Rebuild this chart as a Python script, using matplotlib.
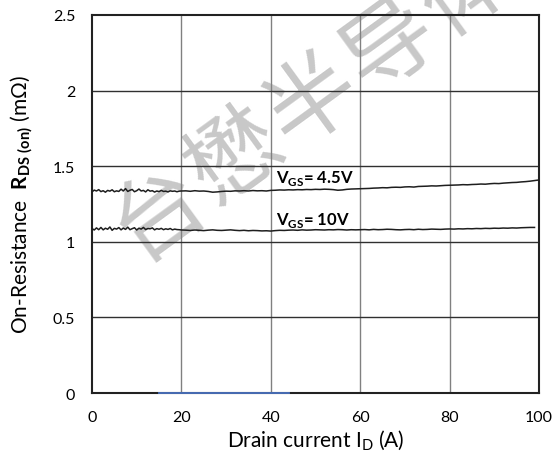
import numpy as np
import matplotlib
matplotlib.use("Agg")
import matplotlib.pyplot as plt

plt.rcParams['font.family'] = ['Lato', 'DejaVu Sans']
plt.rcParams['mathtext.fontset'] = 'custom'
plt.rcParams['mathtext.rm'] = 'Lato'
plt.rcParams['mathtext.bf'] = 'Lato:bold'

# Sampling grid of drain current (A)
current_dense = np.arange(0, 20.5, 0.5)      # 0..20 step 0.5
current_coarse = np.arange(21, 101, 1)       # 21..100 step 1
drain_current = np.concatenate([current_dense, current_coarse])

rds_45v_dense = [1.330, 1.342, 1.336, 1.345, 1.332, 1.338, 1.328, 1.340, 1.335, 1.344,
                 1.331, 1.337, 1.333, 1.348, 1.336, 1.352, 1.333, 1.341, 1.346, 1.331,
                 1.338, 1.349, 1.336, 1.340, 1.330, 1.344, 1.335, 1.338, 1.329, 1.336,
                 1.332, 1.340, 1.333, 1.335, 1.330, 1.337, 1.334, 1.336, 1.331, 1.335,
                 1.336]
rds_45v_coarse = [1.337, 1.334, 1.338, 1.335, 1.336, 1.333, 1.328, 1.330, 1.333, 1.335,
                  1.334, 1.337, 1.336, 1.338, 1.336, 1.339, 1.337, 1.338, 1.336, 1.340,
                  1.341, 1.343, 1.342, 1.344, 1.343, 1.345, 1.344, 1.346, 1.345, 1.347,
                  1.346, 1.348, 1.347, 1.345, 1.341, 1.343, 1.347, 1.349, 1.350, 1.351,
                  1.352, 1.353, 1.355, 1.356, 1.358, 1.357, 1.360, 1.361, 1.360, 1.363,
                  1.364, 1.362, 1.366, 1.367, 1.368, 1.370, 1.369, 1.371, 1.373, 1.374,
                  1.375, 1.376, 1.378, 1.377, 1.379, 1.380, 1.382, 1.381, 1.384, 1.386,
                  1.385, 1.388, 1.390, 1.392, 1.393, 1.396, 1.398, 1.401, 1.405, 1.409]

rds_10v_dense = [1.088, 1.078, 1.092, 1.080, 1.095, 1.079, 1.090, 1.083, 1.098, 1.076,
                 1.089, 1.084, 1.094, 1.079, 1.091, 1.082, 1.097, 1.080, 1.087, 1.093,
                 1.078, 1.090, 1.084, 1.095, 1.081, 1.088, 1.086, 1.092, 1.079, 1.087,
                 1.083, 1.089, 1.080, 1.086, 1.082, 1.088, 1.079, 1.084, 1.081, 1.080,
                 1.078]
rds_10v_coarse = [1.077, 1.075, 1.078, 1.076, 1.074, 1.077, 1.079, 1.076, 1.075, 1.077,
                  1.079, 1.076, 1.074, 1.076, 1.073, 1.075, 1.074, 1.072, 1.073, 1.071,
                  1.074, 1.076, 1.075, 1.077, 1.078, 1.076, 1.079, 1.077, 1.078, 1.080,
                  1.079, 1.078, 1.080, 1.079, 1.081, 1.080, 1.078, 1.080, 1.079, 1.080,
                  1.081, 1.079, 1.082, 1.080, 1.081, 1.083, 1.082, 1.080, 1.079, 1.081,
                  1.082, 1.080, 1.083, 1.081, 1.082, 1.084, 1.083, 1.082, 1.084, 1.085,
                  1.084, 1.086, 1.085, 1.087, 1.086, 1.088, 1.087, 1.089, 1.088, 1.090,
                  1.089, 1.091, 1.090, 1.092, 1.091, 1.093, 1.094, 1.095, 1.095, 1.097]

rds_45v = np.array(rds_45v_dense + rds_45v_coarse)
rds_10v = np.array(rds_10v_dense + rds_10v_coarse)

x_ticks = [0, 20, 40, 60, 80, 100]
y_ticks = [0, 0.5, 1, 1.5, 2, 2.5]
y_tick_labels = ['0', '0.5', '1', '1.5', '2', '2.5']
watermark_chars = ['台', '懋', '半', '导', '体']

W, H = 555, 460
fig = plt.figure(figsize=(W/100, H/100), dpi=100)
ax = fig.add_axes([92/W, 1 - 394/H, (539 - 92)/W, (394 - 16)/H])
ax.set_zorder(1)
ax.patch.set_alpha(0)

# watermark: characters placed along a 36 degree line through (313, 102) px
ang = np.deg2rad(36)
step = 95.0
cx, cy = 313.0, 102.0
for k, ch in enumerate(watermark_chars):
    off = (k - 2) * step
    px = cx + off * np.cos(ang)
    py = cy - off * np.sin(ang)
    fig.text(px / W, 1 - py / H, ch, family=['Noto Sans CJK SC', 'DejaVu Sans'],
             fontsize=66, fontweight='medium', color='#c8c8c8', rotation=36,
             ha='center', va='center', zorder=0, rotation_mode='anchor')

ax.set_xlim(0, 100)
ax.set_ylim(0, 2.5)
ax.set_xticks(x_ticks)
ax.set_yticks(y_ticks)
ax.set_yticklabels(y_tick_labels)
ax.tick_params(length=0, labelsize=11.5, pad=12)

for xv in x_ticks[1:-1]:
    ax.axvline(xv, color='#808080', lw=1.0, zorder=1)
for yv in y_ticks[1:-1]:
    ax.axhline(yv, color='#303030', lw=1.0, zorder=1)

for sp in ax.spines.values():
    sp.set_linewidth(1.5)
    sp.set_color('#222222')

ax.plot(drain_current, rds_45v, color='#1e1e1e', lw=1.1, zorder=3)
ax.plot(drain_current[:-1], rds_10v[:-1], color='#1e1e1e', lw=1.1, zorder=3)

# blue segment on x axis
ax.plot([15, 44], [0, 0], color='#4a72c0', lw=1.3, zorder=4, clip_on=False)

ax.text(41.2, 1.397, r'V$_{\mathbf{GS}}$= 4.5V', fontsize=12, fontweight='bold', va='baseline')
ax.text(41.2, 1.115, r'V$_{\mathbf{GS}}$= 10V', fontsize=12, fontweight='bold', va='baseline')

ax.set_xlabel(r'Drain current I$_{\mathrm{D}}$ (A)', fontsize=15, labelpad=3)
ax.set_ylabel(r'On-Resistance  $\mathbf{R_{DS\ (on)}}$ (m$\Omega$)', fontsize=15, labelpad=13)

fig.savefig('out.png', dpi=100)
